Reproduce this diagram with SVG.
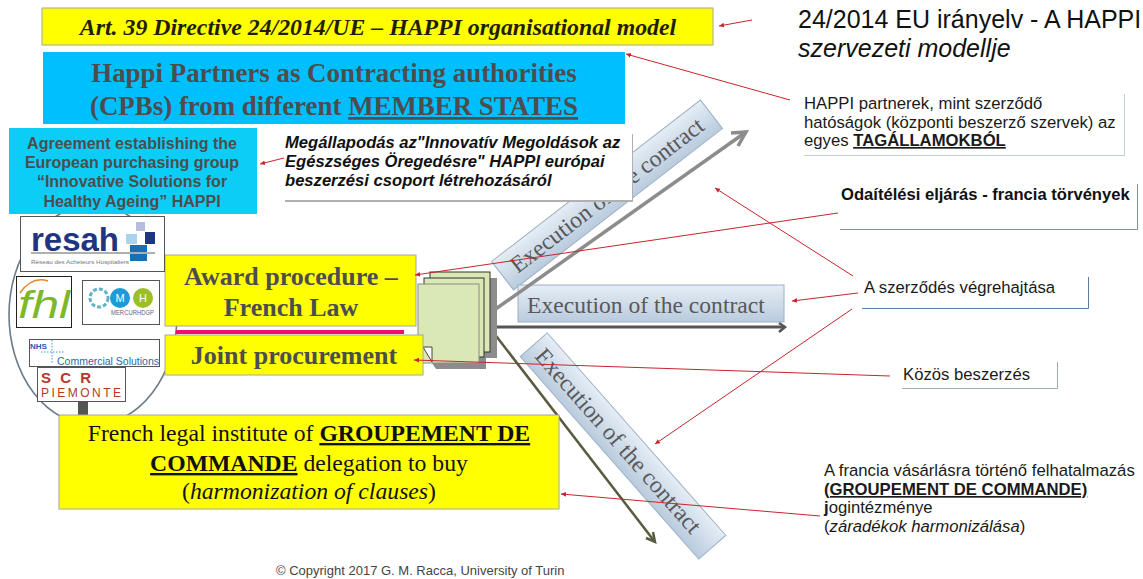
<svg xmlns="http://www.w3.org/2000/svg" width="1143" height="579" viewBox="0 0 1143 579">
<style>
.ser{font-family:"Liberation Serif",serif}
.san{font-family:"Liberation Sans",Arial,sans-serif}
.dk{fill:#4d4d4d;font-weight:bold}
.ylw{fill:#ffff00;stroke:#a6a69a;stroke-width:1}
.ban{fill:url(#g);stroke:#9db0c4;stroke-width:1}
.bt{font-family:"Liberation Serif",serif;font-size:23.600px;fill:#595959}
.h{font-family:"Liberation Sans",Arial,sans-serif;font-size:16.700px;fill:#1a1a1a}
.r{stroke:#c8242c;stroke-width:1;fill:none;marker-end:url(#d)}
.logo{fill:#fff;stroke:#555;stroke-width:1}
</style>
<defs>
<linearGradient id="g" x1="0" y1="0" x2="0" y2="1"><stop offset="0" stop-color="#e6edf5"/><stop offset="1" stop-color="#b9cbde"/></linearGradient>
<marker id="d" markerUnits="userSpaceOnUse" markerWidth="6" markerHeight="6" refX="5" refY="3" orient="auto"><path d="M0 .6 L5 3 L0 5.400 Z" fill="#c8242c"/></marker>
</defs>
<rect width="1143" height="579" fill="#fff"/>
<g id="partners-circle"><ellipse cx="93" cy="315" rx="84" ry="110" fill="#fff" stroke="#6b7b88" stroke-width="1.600"/>
<rect x="78" y="402" width="10" height="14" fill="#555"/></g>
<g id="title"><rect class="ylw" x="42" y="8" width="671" height="37"/>
<text class="ser" x="378" y="35" font-size="23.800" font-weight="bold" font-style="italic" text-anchor="middle" fill="#1f1f00">Art. 39 Directive 24/2014/UE – HAPPI organisational model</text></g>
<g id="title-hu"><text class="san" x="798" y="28" font-size="25" fill="#111">24/2014 EU irányelv - A HAPPI</text>
<text class="san" x="798" y="57" font-size="25" font-style="italic" fill="#111">szervezeti modellje</text></g>
<g id="partners"><rect x="43" y="52" width="582" height="72" fill="#00bfff"/>
<text class="ser dk" x="334" y="82" font-size="26.900" text-anchor="middle">Happi Partners as Contracting authorities</text>
<text class="ser dk" x="334" y="115" font-size="26.900" text-anchor="middle">(CPBs) from different <tspan text-decoration="underline">MEMBER STATES</tspan></text></g>
<g id="agreement"><rect x="9" y="128" width="248" height="86" fill="#0ccdf5"/>
<text class="san dk" font-size="16" text-anchor="middle"><tspan x="132" y="149">Agreement establishing the</tspan><tspan x="132" y="168">European purchasing group</tspan><tspan x="132" y="187">“Innovative Solutions for</tspan><tspan x="132" y="207">Healthy Ageing” HAPPI</tspan></text></g>
<g id="banner-up" transform="translate(607 195) rotate(-37.700)"><rect class="ban" x="-132" y="-18" width="264" height="36"/>
<text class="bt" x="0" y="8" text-anchor="middle">Execution of the contract</text></g>
<g id="agreement-hu"><rect x="285" y="134" width="348" height="68" fill="#b0b0b0"/><rect x="284" y="133" width="348" height="67" fill="#fff"/>
<text class="san" font-size="16.600" font-weight="bold" font-style="italic" fill="#111"><tspan x="285" y="148">Megállapodás az"Innovatív Megoldások az</tspan><tspan x="285" y="167">Egészséges Öregedésre" HAPPI európai</tspan><tspan x="285" y="186">beszerzési csoport létrehozásáról</tspan></text></g>
<g id="banner-mid"><rect class="ban" x="518" y="285" width="266" height="37"/>
<text class="bt" x="527" y="313">Execution of the contract</text></g>
<g id="banner-down" transform="translate(623 446) rotate(48.600)"><rect class="ban" x="-135" y="-18" width="270" height="36"/>
<text class="bt" x="-7" y="8" text-anchor="middle">Execution of the contract</text></g>
<g id="connectors-arrows">
<path d="M490 313 L746 132" stroke="#8c8c8c" stroke-width="3.500" fill="none"/><path d="M731 133 L746 132 L738 146" stroke="#8c8c8c" stroke-width="3.500" fill="none"/>
<path d="M490 327 H785" stroke="#555" stroke-width="3" fill="none"/><path d="M779 323 L785 327 L779 332" stroke="#555" stroke-width="2.500" fill="none"/>
<path d="M490 328 L655 542" stroke="#5a5a40" stroke-width="2.500" fill="none"/><path d="M646 538 L655 542 L653 532" stroke="#5a5a40" stroke-width="2.500" fill="none"/>
</g>
<g id="documents">
<path d="M490 278 H497 V358 H486 V369 H436 L423 350 V290 Z" fill="#8c8c8c"/>
<rect x="430" y="272" width="60" height="80" fill="#d9e8b5" stroke="#333"/>
<rect x="424" y="278" width="60" height="79" fill="#d9e8b5" stroke="#333"/>
<rect x="418" y="284" width="61" height="79" fill="#d9e8b5" stroke="#8a8a8a"/>
<path d="M423 347 H432 V362 Z" fill="#fff" stroke="#444"/>
</g>
<g id="award"><rect x="176" y="330" width="228" height="4" fill="#ef0f6e"/>
<rect class="ylw" x="165" y="255" width="251" height="71"/>
<text class="ser dk" font-size="26" text-anchor="middle"><tspan x="291" y="285">Award procedure –</tspan><tspan x="291" y="316">French Law</tspan></text></g>
<g id="joint"><rect class="ylw" x="165" y="335" width="258" height="40"/>
<text class="ser dk" x="294" y="364" font-size="26" text-anchor="middle">Joint procurement</text></g>
<g id="groupement"><rect class="ylw" x="59" y="415" width="500" height="94"/>
<text class="ser" font-size="23.700" fill="#111" text-anchor="middle"><tspan x="309" y="441">French legal institute of <tspan font-weight="bold" text-decoration="underline">GROUPEMENT DE</tspan></tspan><tspan x="309" y="471"><tspan font-weight="bold" text-decoration="underline">COMMANDE</tspan> delegation to buy</tspan><tspan x="309" y="499">(<tspan font-style="italic">harmonization of clauses</tspan>)</tspan></text></g>
<g id="logo-resah"><rect class="logo" x="20.500" y="216.500" width="144" height="55"/>
<text class="san" x="31" y="251" font-size="34" font-weight="bold" fill="#1f3580" textLength="88" lengthAdjust="spacingAndGlyphs">resah</text>
<rect x="136" y="222" width="9" height="9" fill="#b5bde0"/><rect x="126" y="234" width="11" height="10" fill="#a8d4f0"/><rect x="145" y="232" width="10" height="12" fill="#1f3580"/><rect x="130" y="245" width="17" height="16" fill="#1570b8"/>
<rect x="31" y="252" width="124" height="2" fill="#b0b0b0"/>
<text class="san" x="31" y="263.500" font-size="6" fill="#777" textLength="98" lengthAdjust="spacingAndGlyphs">Réseau des Acheteurs Hospitaliers</text></g>
<g id="logo-fhl"><rect x="16.500" y="276.500" width="55" height="51" fill="#fff" stroke="#222"/>
<text class="san" x="18" y="318" font-size="38" font-style="italic" fill="#7cb82a" textLength="52" lengthAdjust="spacingAndGlyphs">fhl</text>
<path d="M20 293 Q32 276 48 281" stroke="#e8862a" stroke-width="1.500" fill="none"/></g>
<g id="logo-mercurio"><rect class="logo" x="82.500" y="280.500" width="77" height="44"/>
<circle cx="99" cy="298" r="9" fill="none" stroke="#5fb3c8" stroke-width="3" stroke-dasharray="4 2"/><circle cx="120" cy="298" r="10" fill="#1e9ad6"/><circle cx="143" cy="298" r="10" fill="#9cbe2a"/>
<text class="san" x="120" y="302" font-size="11" fill="#fff" text-anchor="middle">M</text><text class="san" x="143" y="302" font-size="11" fill="#fff" text-anchor="middle">H</text>
<text class="san" x="111" y="315" font-size="6.500" fill="#667" textLength="43" lengthAdjust="spacingAndGlyphs">MERCURHDGP</text></g>
<g id="logo-nhs"><rect class="logo" x="29.500" y="339.500" width="130" height="27"/>
<text class="san" x="30" y="349" font-size="8" font-weight="bold" fill="#1f5aa8">NHS</text>
<text class="san" x="57" y="365" font-size="11.500" fill="#2a6aa8" textLength="102" lengthAdjust="spacingAndGlyphs">Commercial Solutions</text>
<path d="M52 340 V364 M41 352 H65" stroke="#3a9ad6" stroke-width="1" stroke-dasharray="1.500 1.500" fill="none"/></g>
<g id="logo-scr"><rect class="logo" x="37.500" y="367.500" width="88" height="34"/>
<text class="san" x="41" y="383" font-size="15" font-weight="bold" fill="#b5382a" textLength="50" lengthAdjust="spacing">SCR</text>
<text class="san" x="41" y="397" font-size="12" fill="#b5382a" textLength="80" lengthAdjust="spacing">PIEMONTE</text></g>
<g id="hu-partners"><rect x="804" y="94" width="321" height="62" fill="#c5cfdb"/><rect x="803" y="93" width="321" height="62" fill="#fff"/>
<text class="h"><tspan x="804" y="109">HAPPI partnerek, mint szerződő</tspan><tspan x="804" y="128">hatóságok (központi beszerző szervek) az</tspan><tspan x="804" y="146">egyes <tspan font-weight="bold" text-decoration="underline">TAGÁLLAMOKBÓL</tspan></tspan></text></g>
<g id="hu-award"><path d="M840 229.500 H1137.500 V184" fill="none" stroke="#7f93a8"/>
<text class="san" x="841" y="200" font-size="16.600" font-weight="bold" fill="#111">Odaítélési eljárás - francia törvények</text></g>
<g id="hu-exec"><path d="M862 308.500 H1088.500 V277" fill="none" stroke="#5b7ba0"/>
<text class="h" x="864" y="293">A szerződés végrehajtása</text></g>
<g id="hu-joint"><path d="M902 388.500 H1057.500 V362" fill="none" stroke="#9aaabb"/>
<text class="h" x="903" y="380">Közös beszerzés</text></g>
<g id="hu-groupement"><text class="h"><tspan x="824" y="476">A francia vásárlásra történő felhatalmazás</tspan><tspan x="824" y="495" font-weight="bold" text-decoration="underline">(GROUPEMENT DE COMMANDE)</tspan><tspan x="824" y="513"><tspan font-weight="bold">j</tspan>ogintézménye</tspan><tspan x="824" y="532">(<tspan font-style="italic">záradékok harmonizálása</tspan>)</tspan></text></g>
<text class="san" x="276" y="575" font-size="13" fill="#444">© Copyright 2017 G. M. Racca, University of Turin</text>
<g id="connectors-red">
<path class="r" d="M752 20 L719 26"/>
<path class="r" d="M790 100 L626 54"/>
<path class="r" d="M284 158 L260 164"/>
<path class="r" d="M838 213 L415 275"/>
<path class="r" d="M853 276 L715 188"/>
<path class="r" d="M858 293 L792 301"/>
<path class="r" d="M852 309 L655 444"/>
<path class="r" d="M890 376 L414 360"/>
<path class="r" d="M820 516 L561 494"/>
</g>
</svg>
